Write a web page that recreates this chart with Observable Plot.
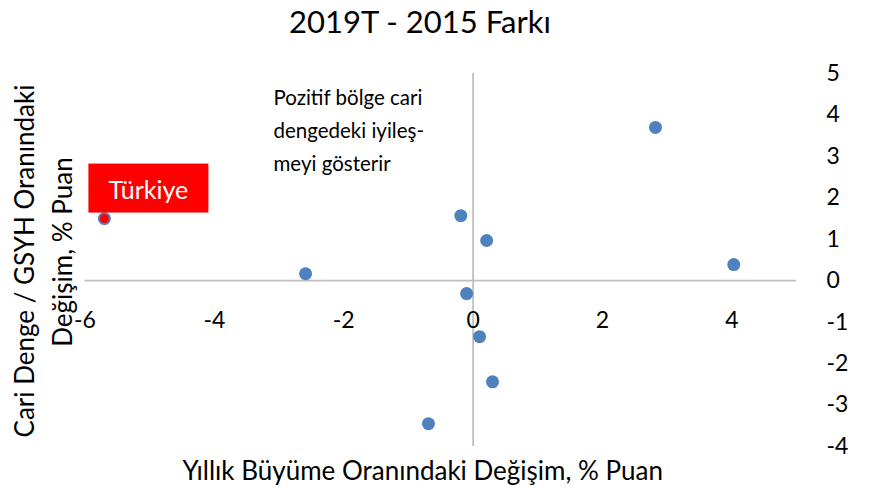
<!DOCTYPE html>
<html>
<head>
<meta charset="utf-8">
<script src="https://cdn.jsdelivr.net/npm/d3@7"></script>
<script src="https://cdn.jsdelivr.net/npm/@observablehq/plot@0.6"></script>
<style>
  html, body { margin: 0; padding: 0; background: #fff; }
  #title { width: 840px; height: 46px; line-height: 42px; text-align: center;
           font-family: Lato, sans-serif; font-size: 31px; color: #000; }
</style>
</head>
<body>
<div id="title">2019T - 2015 Farkı</div>
<div id="chart"></div>
<script>
// Data
const countryLabels = ["Türkiye", "", "", "", "", "", "", "", "", ""];
const growthChange  = [-5.70, -0.19, 0.21, -2.59, 2.82, 4.03, -0.10, 0.10, 0.30, -0.69];
const balanceChange = [ 1.50,  1.57, 0.97,  0.17, 3.70, 0.39, -0.31, -1.35, -2.44, -3.45];
const xTicks = [-6, -4, -2, 0, 2, 4];
const yTicks = [-4, -3, -2, -1, 0, 1, 2, 3, 4, 5];
const xLabel = "Yıllık Büyüme Oranındaki Değişim, % Puan";
const yLabelLines = ["Cari Denge / GSYH Oranındaki", "Değişim, % Puan"];
const noteLines = "Pozitif bölge cari\ndengedeki iyileş-\nmeyi gösterir";

const points = growthChange.map((g, i) => ({x: g, y: balanceChange[i], label: countryLabels[i]}));
const highlighted = points.filter(d => d.label === "Türkiye");
const others = points.filter(d => d.label !== "Türkiye");

const blue = "#4f81bd";
const grid = "#bfbfbf";

const plot = Plot.plot({
  width: 876,
  height: 442,
  marginTop: 27,
  marginBottom: 42,
  marginLeft: 84.5,
  marginRight: 80,
  style: {fontFamily: "Lato, sans-serif", background: "#fff", overflow: "visible", color: "#000"},
  x: {domain: [-6, 5], axis: null},
  y: {domain: [-4, 5], axis: null},
  marks: [
    Plot.ruleY([0], {stroke: grid, strokeWidth: 1.75}),
    Plot.ruleX([0], {stroke: grid, strokeWidth: 1.75}),
    // x tick labels just below the zero line
    Plot.text(xTicks, {x: d => d, y: 0, text: d => String(d), dy: 40, fontSize: 23, fill: "#000"}),
    // y tick labels on the right
    Plot.axisY(yTicks, {anchor: "right", tickSize: 0, tickPadding: 30, fontSize: 23, label: null, textAnchor: "start", tickFormat: d => String(d)}),
    Plot.dot(others, {x: "x", y: "y", r: 6.5, fill: blue, stroke: null}),
    Plot.dot(highlighted, {x: "x", y: "y", r: 5.5, fill: "#ff0000", stroke: blue, strokeWidth: 2}),
    Plot.text(highlighted, {x: "x", y: "y", text: "label", dx: 44, dy: -28, fontSize: 25, fill: "#fff"}),
    // annotation
    Plot.text([noteLines], {frameAnchor: "top-left", dx: 188.5, dy: 8, lineAnchor: "top", textAnchor: "start", lineHeight: 1.62, fontSize: 20.5, fill: "#000"}),
    // axis titles
    Plot.text([xLabel], {frameAnchor: "bottom", dx: -18, dy: 25, lineAnchor: "middle", fontSize: 26, fill: "#000"}),
    Plot.text([yLabelLines[0]], {frameAnchor: "left", textAnchor: "middle", rotate: -90, dx: -59.5, dy: 1, fontSize: 26, fill: "#000"}),
    Plot.text([yLabelLines[1]], {frameAnchor: "left", textAnchor: "middle", rotate: -90, dx: -21.5, dy: -8, fontSize: 26, fill: "#000"})
  ]
});
document.getElementById("chart").appendChild(plot);

// red background box behind the highlighted label
plot.querySelectorAll("text").forEach(t => {
  if (t.textContent === "Türkiye") {
    const b = t.getBBox();
    const rect = document.createElementNS("http://www.w3.org/2000/svg", "rect");
    const cx = b.x + b.width / 2;
    const cy = b.y + b.height / 2;
    rect.setAttribute("x", cx - 60);
    rect.setAttribute("width", 120);
    rect.setAttribute("y", cy - 25);
    rect.setAttribute("height", 49);
    rect.setAttribute("fill", "#ff0000");
    if (t.getAttribute("transform")) rect.setAttribute("transform", t.getAttribute("transform"));
    t.parentNode.insertBefore(rect, t);
  }
});
</script>
</body>
</html>
